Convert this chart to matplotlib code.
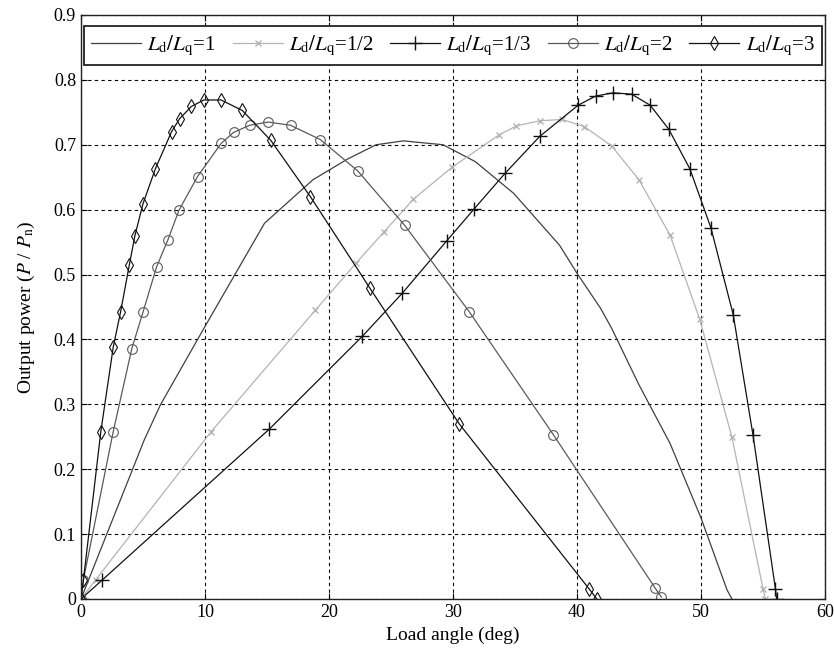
import matplotlib
matplotlib.use('Agg')
import matplotlib.pyplot as plt

# Load angle (deg) / output power (P/Pn)
x_r1 = [0, 5.1, 6.4, 10.0, 14.8, 18.7, 21.5, 23.8, 26.0, 29.2, 31.8, 34.9, 38.6, 40.0, 41.9, 42.8, 45.0, 47.5, 50.0, 52.1, 52.5]
p_r1 = [0, 0.245, 0.299, 0.42, 0.579, 0.646, 0.678, 0.70, 0.706, 0.70, 0.674, 0.625, 0.545, 0.502, 0.448, 0.417, 0.33, 0.24, 0.125, 0.014, 0.0]

x_r12 = [0, 1.2, 10.5, 18.9, 22.2, 24.4, 26.8, 29.9, 33.7, 35.1, 37.0, 38.8, 40.6, 42.8, 45.0, 47.5, 49.9, 52.5, 55.0, 55.2]
p_r12 = [0, 0.03, 0.258, 0.445, 0.518, 0.565, 0.616, 0.665, 0.715, 0.729, 0.737, 0.739, 0.728, 0.698, 0.646, 0.561, 0.431, 0.249, 0.016, 0.0]

x_r13 = [0, 1.7, 15.2, 22.7, 25.9, 29.5, 31.7, 34.2, 37.0, 40.1, 41.5, 42.9, 44.4, 45.9, 47.4, 49.1, 50.8, 52.6, 54.2, 56.0, 56.1]
p_r13 = [0, 0.029, 0.262, 0.405, 0.471, 0.552, 0.601, 0.656, 0.713, 0.761, 0.775, 0.780, 0.778, 0.761, 0.724, 0.663, 0.572, 0.438, 0.252, 0.016, 0.0]

x_r2 = [0, 0.2, 2.6, 4.1, 5.0, 6.1, 7.0, 7.9, 9.4, 11.3, 12.3, 13.6, 15.1, 16.9, 19.3, 22.3, 26.1, 31.3, 38.1, 46.3, 46.8]
p_r2 = [0, 0.03, 0.258, 0.386, 0.442, 0.512, 0.553, 0.599, 0.651, 0.702, 0.719, 0.730, 0.735, 0.730, 0.708, 0.66, 0.576, 0.443, 0.253, 0.017, 0.003]

x_r3 = [0, 0.2, 1.6, 2.6, 3.2, 3.9, 4.35, 5.0, 6.0, 7.3, 7.95, 8.9, 9.9, 11.3, 13.0, 15.3, 18.5, 23.3, 30.5, 41.0, 41.6]
p_r3 = [0, 0.03, 0.258, 0.388, 0.443, 0.515, 0.56, 0.609, 0.663, 0.72, 0.74, 0.759, 0.769, 0.769, 0.753, 0.707, 0.62, 0.479, 0.27, 0.015, 0.0]

x_ticks = [0, 10, 20, 30, 40, 50, 60]
y_ticks = [0, 0.1, 0.2, 0.3, 0.4, 0.5, 0.6, 0.7, 0.8, 0.9]
y_labels = ['0', '0.1', '0.2', '0.3', '0.4', '0.5', '0.6', '0.7', '0.8', '0.9']

plt.rcParams['font.family'] = ['Liberation Serif', 'DejaVu Serif']
plt.rcParams['mathtext.fontset'] = 'stix'

fig = plt.figure(figsize=(8.34, 6.54), dpi=100)
ax = fig.add_axes([0.0971, 0.0841, 0.8921, 0.8930])

lw = 0.9
ax.plot(x_r1, p_r1, color='#404040', linewidth=lw, label=r'$L_{\rm d}/L_{\rm q}$=1')
ax.plot(x_r12, p_r12, color='#b4b4b4', linewidth=lw, marker='x', markersize=4,
        label=r'$L_{\rm d}/L_{\rm q}$=1/2')
ax.plot(x_r13, p_r13, color='#111111', linewidth=lw, marker='+', markersize=10,
        markeredgewidth=1.0, label=r'$L_{\rm d}/L_{\rm q}$=1/3')
ax.plot(x_r2, p_r2, color='#5a5a5a', linewidth=lw, marker='o', markersize=7,
        markerfacecolor='none', markeredgewidth=0.8, label=r'$L_{\rm d}/L_{\rm q}$=2')
ax.plot(x_r3, p_r3, color='#111111', linewidth=lw, marker='d', markersize=7.5,
        markerfacecolor='none', markeredgewidth=0.8, label=r'$L_{\rm d}/L_{\rm q}$=3')

ax.set_xlim(0, 60)
ax.set_ylim(0, 0.9)
ax.set_xticks(x_ticks)
ax.set_yticks(y_ticks)
ax.set_yticklabels(y_labels)
ax.tick_params(direction='in', top=True, right=True, length=4, labelsize=13)

ax.grid(True, color='black', linestyle=(0, (3, 3)), linewidth=0.8)
ax.set_axisbelow(True)
for s in ax.spines.values():
    s.set_color('#222222')
    s.set_linewidth(1.0)

ax.set_xlabel('Load angle (deg)', fontsize=14, labelpad=4)
ax.set_ylabel(r'Output power ($P$ / $P_{\rm n}$)', fontsize=14, labelpad=12)

leg = ax.legend(loc='upper left', bbox_to_anchor=(0.004, 0.913, 0.992, 0.068),
                mode='expand', ncol=5, borderaxespad=0, fancybox=False,
                edgecolor='#222222', framealpha=1, fontsize=15,
                handlelength=2.4, handletextpad=0.3, columnspacing=0.9,
                borderpad=0.35)
leg.get_frame().set_linewidth(1.3)

fig.savefig('out.png', dpi=100, facecolor='white')
